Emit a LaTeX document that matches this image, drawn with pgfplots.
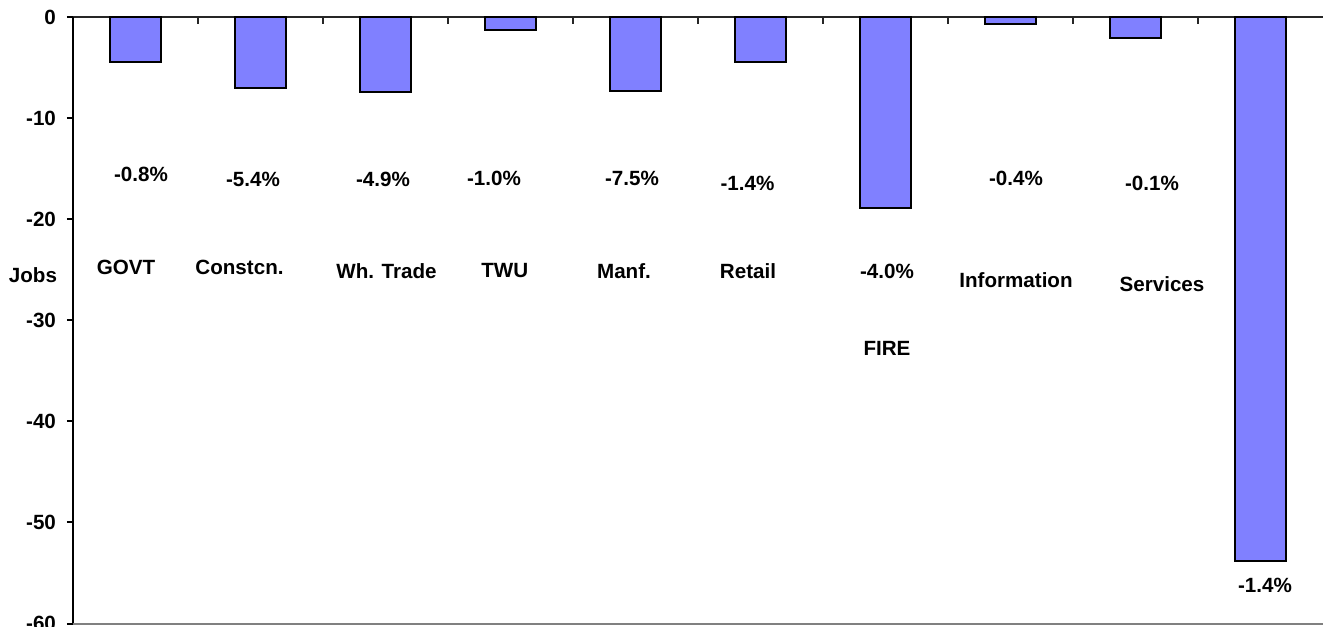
\documentclass[border=0pt]{standalone}
\usepackage{pgfplots}
\pgfplotsset{compat=1.18}
\usepackage{fontspec}
\setmainfont{Liberation Sans}
\definecolor{barblue}{RGB}{128,128,255}
\begin{document}
\begin{tikzpicture}[lbl/.style={font=\bfseries\fontsize{10.3}{12}\selectfont, inner sep=0pt}]
\begin{axis}[
  scale only axis,
  width=625pt, height=303.3pt,
  xmin=-0.5, xmax=9.5, ymin=-60, ymax=0,
  clip=false,
  axis x line=top, axis y line=left,
  axis line style={line width=1pt, -},
  x axis line style={black!85},
  xtick={0.5,1.5,...,8.5}, xticklabels={},
  ytick={-60,-50,...,0},
  tick align=outside,
  major tick length=3pt,
  xtick style={line width=1pt, black!85, yshift=-3.3pt},
  ytick style={line width=1pt, black},
  /pgf/number format/assume math mode=true,
  yticklabel style={font=\bfseries\fontsize{10.3}{12}\selectfont, xshift=-2pt},
]
\coordinate (bl) at (rel axis cs:0,0);
\coordinate (tr) at (rel axis cs:1,1);
\draw[gray, line width=1pt] (rel axis cs:0,0) -- (rel axis cs:1,0);
\addplot[ybar, bar width=25.5pt, fill=barblue, draw=black, line width=1pt]
  coordinates {(0,-4.45) (1,-7.0) (2,-7.4) (3,-1.3) (4,-7.3) (5,-4.5) (6,-18.9) (7,-0.7) (8,-2.1) (9,-53.8)};
% percentage labels
\node[lbl] at (axis cs:0.044,-15.6) {-0.8\%};
\node[lbl] at (axis cs:0.94,-16.1) {-5.4\%};
\node[lbl] at (axis cs:1.98,-16.1) {-4.9\%};
\node[lbl] at (axis cs:2.868,-16.0) {-1.0\%};
\node[lbl] at (axis cs:3.972,-16.0) {-7.5\%};
\node[lbl] at (axis cs:4.896,-16.5) {-1.4\%};
\node[lbl] at (axis cs:6.012,-25.2) {-4.0\%};
\node[lbl] at (axis cs:7.044,-16.0) {-0.4\%};
\node[lbl] at (axis cs:8.132,-16.5) {-0.1\%};
\node[lbl] at (axis cs:9.036,-56.2) {-1.4\%};
% category labels
\node[lbl] at (axis cs:-0.076,-24.8) {GOVT};
\node[lbl] at (axis cs:0.832,-24.8) {Constcn.};
\node[lbl] at (axis cs:2.008,-25.1) {Wh. Trade};
\node[lbl] at (axis cs:2.954,-25.1) {TWU};
\node[lbl] at (axis cs:3.908,-25.1) {Manf.};
\node[lbl] at (axis cs:4.9,-25.1) {Retail};
\node[lbl] at (axis cs:6.012,-32.8) {FIRE};
\node[lbl] at (axis cs:7.044,-26.0) {Information};
\node[lbl] at (axis cs:8.212,-26.4) {Services};
\node[lbl] at (axis cs:-0.5,-25.5) [xshift=-20pt] {Jobs};
\end{axis}
\pgfresetboundingbox
\path ([xshift=-36.5pt,yshift=-1.7pt]bl) rectangle ([xshift=1pt,yshift=8.5pt]tr);
\end{tikzpicture}
\end{document}
